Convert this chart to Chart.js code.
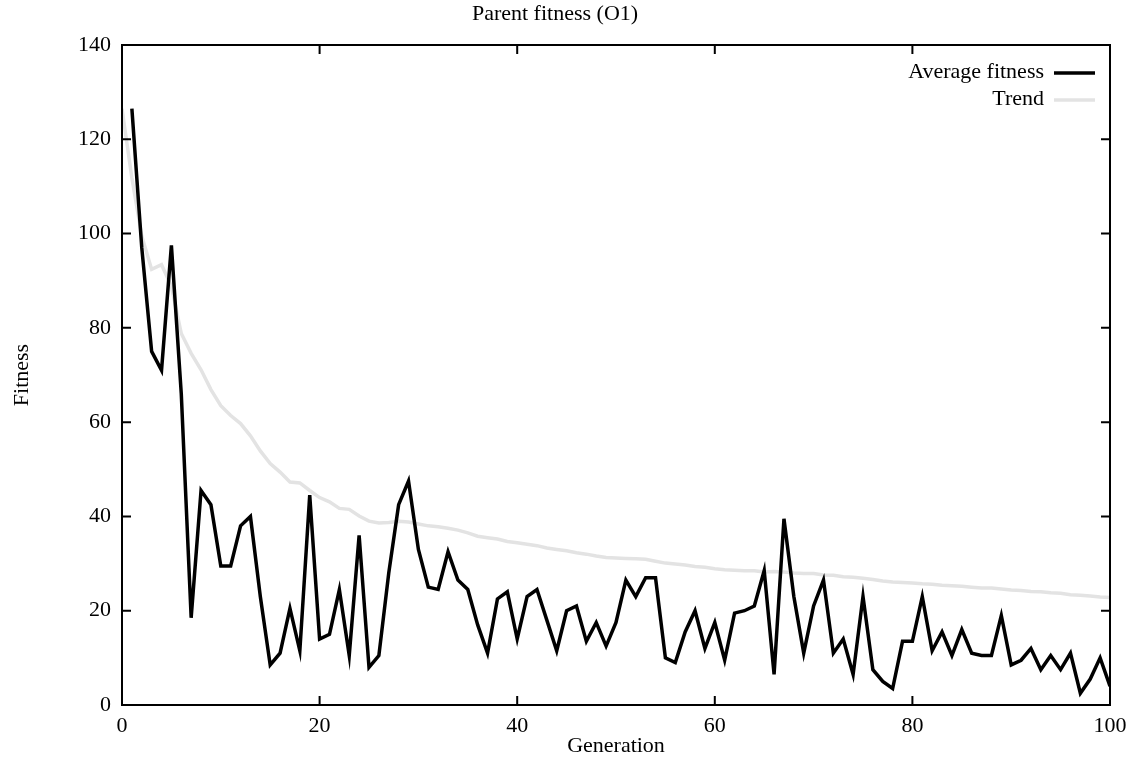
<!DOCTYPE html>
<html>
<head>
<meta charset="utf-8">
<script src="https://cdn.jsdelivr.net/npm/chart.js@4/dist/chart.umd.min.js"></script>
<style>
    html, body { margin: 0; padding: 0; background: #fff; }
    #wrap { width: 1139px; height: 762px; }
</style>
</head>
<body>
<div id="wrap"><canvas id="fitChart" width="1139" height="762"></canvas></div>
<script>
// average fitness per generation, generations 1..100
const avgFitness = [
    126.5, 97, 75, 71, 97.5, 66, 18.5, 45.5, 42.5, 29.5,
    29.5, 38, 40, 23, 8.5, 11, 20.5, 11.5, 44.5, 14,
    15, 24.5, 10.5, 36, 8, 10.5, 28, 42.5, 47.5, 33,
    25, 24.5, 32.5, 26.5, 24.5, 17, 11, 22.5, 24, 14,
    23, 24.5, 18, 11.5, 20, 21, 13.5, 17.5, 12.5, 17.5,
    26.5, 23, 27, 27, 10, 9, 15.5, 20, 12, 17.5,
    9.5, 19.5, 20, 21, 28.5, 6.5, 39.5, 23, 11, 21,
    26.5, 11, 14, 6.5, 23, 7.5, 5, 3.5, 13.5, 13.5,
    23, 11.5, 15.5, 10.5, 16, 11, 10.5, 10.5, 19, 8.5,
    9.5, 12, 7.5, 10.5, 7.5, 11, 2.5, 5.5, 10, 4
];

// trend line, generations 0..100
const trend = [
    126.5, 111.8, 99.5, 92.4, 93.4, 88.8, 78.8, 74.6, 71.1, 66.9,
    63.5, 61.4, 59.7, 57.1, 53.9, 51.2, 49.4, 47.3, 47.1, 45.5,
    44.0, 43.1, 41.7, 41.5, 40.1, 39.0, 38.6, 38.7, 39.0, 38.8,
    38.4, 38.0, 37.8, 37.5, 37.1, 36.5, 35.8, 35.5, 35.2, 34.7,
    34.4, 34.1, 33.8, 33.3, 33.0, 32.7, 32.3, 32.0, 31.6, 31.3,
    31.2, 31.1, 31.0, 30.9, 30.5, 30.1, 29.9, 29.7, 29.4, 29.2,
    28.9, 28.7, 28.6, 28.5, 28.5, 28.2, 28.3, 28.2, 28.0, 27.9,
    27.9, 27.6, 27.5, 27.2, 27.1, 26.9, 26.6, 26.3, 26.1, 26.0,
    25.9, 25.7, 25.6, 25.4, 25.3, 25.2, 25.0, 24.8, 24.8, 24.6,
    24.4, 24.3, 24.1, 24.0, 23.8, 23.7, 23.4, 23.3, 23.1, 22.9,
    22.8
];

const xTicks = [0, 20, 40, 60, 80, 100];
const yTicks = [0, 20, 40, 60, 80, 100, 120, 140];

const FONT = "'Liberation Serif', 'DejaVu Serif', serif";

// gnuplot style box with inward ticks on all four sides
const frameTicks = {
    id: "frameTicks",
    afterDatasetsDraw(chart) {
        const { ctx, chartArea: a, scales } = chart;
        const len = 8;
        ctx.save();
        ctx.strokeStyle = "#000";
        ctx.lineWidth = 2;
        ctx.lineCap = "square";
        ctx.beginPath();
        for (const v of xTicks) {
            const px = scales.x.getPixelForValue(v);
            ctx.moveTo(px, a.bottom); ctx.lineTo(px, a.bottom - len);
            ctx.moveTo(px, a.top); ctx.lineTo(px, a.top + len);
        }
        for (const v of yTicks) {
            const py = scales.y.getPixelForValue(v);
            ctx.moveTo(a.left, py); ctx.lineTo(a.left + len, py);
            ctx.moveTo(a.right, py); ctx.lineTo(a.right - len, py);
        }
        ctx.stroke();
        ctx.strokeRect(a.left, a.top, a.right - a.left, a.bottom - a.top);
        ctx.restore();
    }
};

// legend inside the plot, text right-aligned with sample line after it
const keyBox = {
    id: "keyBox",
    afterDraw(chart) {
        const { ctx, chartArea: a } = chart;
        const textRight = a.right - 66;
        const lineX0 = a.right - 56, lineX1 = a.right - 15;
        ctx.save();
        ctx.font = "22px " + FONT;
        ctx.textAlign = "right";
        ctx.textBaseline = "middle";
        ctx.fillStyle = "#000";
        chart.data.datasets.forEach((ds, i) => {
            const y = a.top + 27 + i * 27;
            ctx.fillText(ds.label, textRight, y);
            ctx.strokeStyle = ds.borderColor;
            ctx.lineWidth = ds.borderWidth;
            ctx.beginPath();
            ctx.moveTo(lineX0, y + 1);
            ctx.lineTo(lineX1, y + 1);
            ctx.stroke();
        });
        ctx.restore();
    }
};

function main() {
    const ctx = document.getElementById("fitChart");
    new Chart(ctx, {
        type: "line",
        data: {
            datasets: [
                {
                    label: "Average fitness",
                    data: avgFitness.map((v, i) => ({ x: i + 1, y: v })),
                    borderColor: "#000000",
                    borderWidth: 3.5,
                    pointRadius: 0,
                    tension: 0,
                    fill: false
                },
                {
                    label: "Trend",
                    data: trend.map((v, i) => ({ x: i, y: v })),
                    borderColor: "#e3e3e3",
                    borderWidth: 3.5,
                    pointRadius: 0,
                    tension: 0,
                    fill: false
                }
            ]
        },
        options: {
            responsive: false,
            animation: false,
            devicePixelRatio: 1,
            layout: { padding: { left: 0, right: 29, top: 0, bottom: 0 } },
            plugins: {
                legend: { display: false },
                tooltip: { enabled: false },
                title: {
                    display: true,
                    text: "Parent fitness (O1)",
                    color: "#000",
                    font: { family: FONT, size: 22, weight: "normal" },
                    padding: { top: 1.5, bottom: 17.1 }
                }
            },
            scales: {
                x: {
                    type: "linear",
                    min: 0,
                    max: 100,
                    afterFit: s => { s.height = 57; },
                    afterBuildTicks: s => { s.ticks = xTicks.map(v => ({ value: v })); },
                    grid: { display: false, drawTicks: false },
                    border: { display: false },
                    ticks: {
                        color: "#000",
                        padding: 8,
                        maxRotation: 0,
                        font: { family: FONT, size: 22 }
                    },
                    title: {
                        display: true,
                        text: "Generation",
                        color: "#000",
                        font: { family: FONT, size: 22 },
                        padding: { top: 0, bottom: 3 }
                    }
                },
                y: {
                    min: 0,
                    max: 140,
                    afterFit: s => { s.width = 122; },
                    afterBuildTicks: s => { s.ticks = yTicks.map(v => ({ value: v })); },
                    grid: { display: false, drawTicks: false },
                    border: { display: false },
                    ticks: {
                        color: "#000",
                        padding: 11,
                        font: { family: FONT, size: 22 }
                    },
                    title: {
                        display: true,
                        text: "Fitness",
                        color: "#000",
                        font: { family: FONT, size: 22 },
                        padding: { top: 9, bottom: 0 }
                    }
                }
            }
        },
        plugins: [frameTicks, keyBox]
    });
}

if (document.readyState === "loading") {
    document.addEventListener("DOMContentLoaded", main);
} else {
    main();
}
</script>
</body>
</html>
